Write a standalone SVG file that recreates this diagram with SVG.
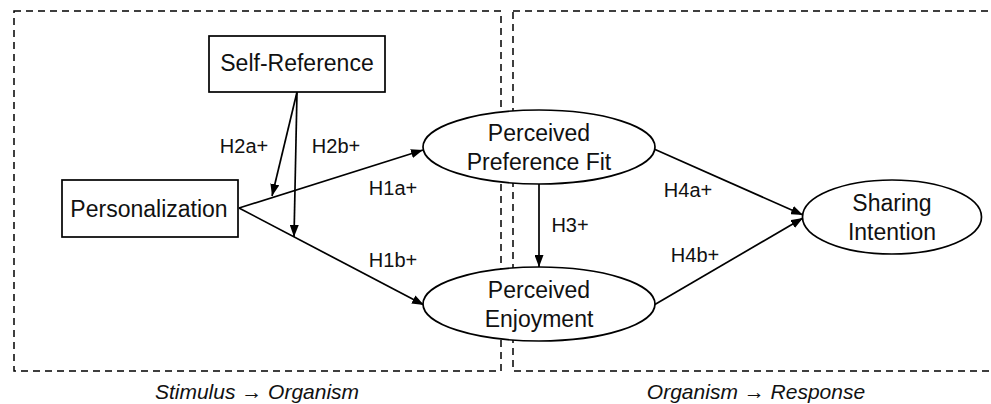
<svg xmlns="http://www.w3.org/2000/svg" width="991" height="404" viewBox="0 0 991 404">
<defs>
<marker id="arr" markerWidth="12" markerHeight="9" refX="12" refY="4.5" orient="auto" markerUnits="userSpaceOnUse">
<path d="M0,0 L12,4.5 L0,9 z" fill="#000"/>
</marker>
<style>
.frame{fill:none;stroke:#000;stroke-width:1.5;stroke-dasharray:7 5}
.node{fill:#fff;stroke:#000;stroke-width:1.7}
.t{font-family:"Liberation Sans",Arial,sans-serif;font-size:23px;fill:#111;text-anchor:middle}
.lbl{font-family:"Liberation Sans",Arial,sans-serif;font-size:20px;fill:#111;text-anchor:middle}
.cap{font-family:"Liberation Sans",Arial,sans-serif;font-size:21px;font-style:italic;fill:#111;text-anchor:middle}
.e{fill:none;stroke:#000;stroke-width:1.7;marker-end:url(#arr)}
</style>
</defs>
<g id="frames">
<rect class="frame" x="14" y="11" width="487" height="360"/>
<rect class="frame" x="513" y="11" width="520" height="360"/>
<text class="cap" x="257" y="399">Stimulus → Organism</text>
<text class="cap" x="756" y="399">Organism → Response</text>
</g>
<g id="connectors">
<line class="e" x1="297" y1="92" x2="272" y2="196"/>
<line class="e" x1="297" y1="92" x2="294" y2="237"/>
<line class="e" x1="239" y1="208" x2="423" y2="150"/>
<line class="e" x1="239" y1="208" x2="424" y2="305"/>
<line class="e" x1="539" y1="184" x2="539" y2="267"/>
<line class="e" x1="654" y1="149" x2="803" y2="215"/>
<line class="e" x1="654" y1="305" x2="803" y2="218"/>
<text class="lbl" x="244" y="153">H2a+</text>
<text class="lbl" x="336" y="153">H2b+</text>
<text class="lbl" x="393" y="195">H1a+</text>
<text class="lbl" x="393" y="267">H1b+</text>
<text class="lbl" x="570" y="232">H3+</text>
<text class="lbl" x="688" y="197">H4a+</text>
<text class="lbl" x="695" y="262">H4b+</text>
</g>
<g id="self-reference">
<rect class="node" x="209" y="36" width="176" height="56"/>
<text class="t" x="297" y="71">Self-Reference</text>
</g>
<g id="personalization">
<rect class="node" x="62" y="180" width="176" height="57"/>
<text class="t" x="149" y="217">Personalization</text>
</g>
<g id="preference-fit">
<ellipse class="node" cx="539" cy="147" rx="116" ry="37"/>
<text class="t" x="539" y="141">Perceived</text>
<text class="t" x="539" y="170">Preference Fit</text>
</g>
<g id="enjoyment">
<ellipse class="node" cx="539" cy="304" rx="116" ry="37"/>
<text class="t" x="539" y="298">Perceived</text>
<text class="t" x="539" y="327">Enjoyment</text>
</g>
<g id="sharing-intention">
<ellipse class="node" cx="892" cy="217" rx="89.5" ry="37"/>
<text class="t" x="892" y="211">Sharing</text>
<text class="t" x="892" y="240">Intention</text>
</g>
</svg>
